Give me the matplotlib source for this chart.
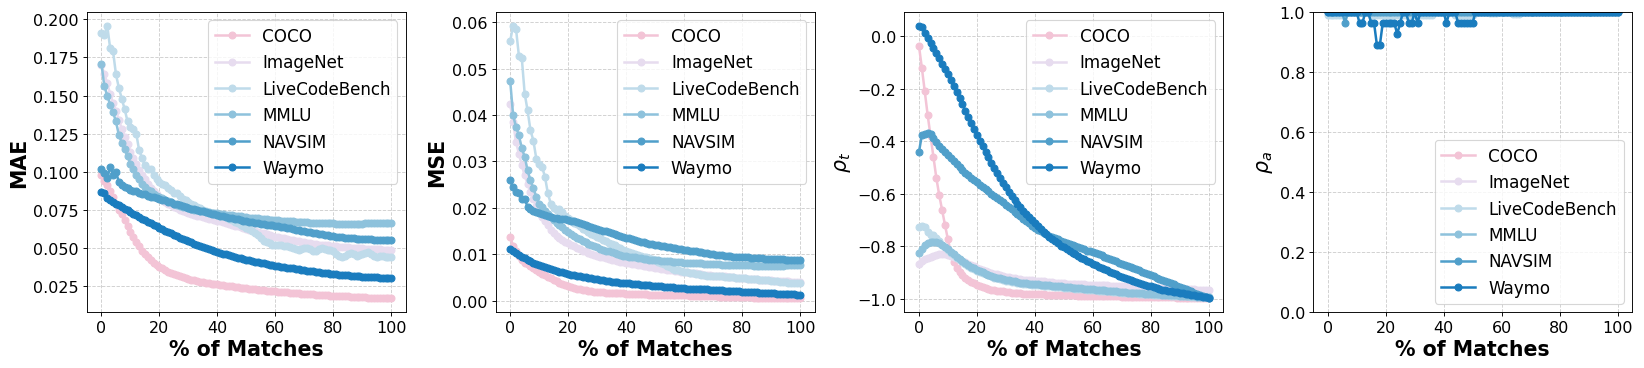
import matplotlib
matplotlib.use("Agg")
import matplotlib.pyplot as plt

# ---------------- data ----------------
pct = list(range(0, 101))  # % of matches

datasets = ["COCO", "ImageNet", "LiveCodeBench", "MMLU", "NAVSIM", "Waymo"]
colors = ["#f3c4d6", "#e7dcef", "#bfdbea", "#8ec2dc", "#509fca", "#1a7cbe"]

mae_coco = [
    0.0977, 0.0940, 0.0911, 0.0870, 0.0830, 0.0790, 0.0750, 0.0720, 0.0680, 0.0640,
    0.0600, 0.0570, 0.0540, 0.0510, 0.0480, 0.0460, 0.0440, 0.0420, 0.0400, 0.0388,
    0.0375, 0.0363, 0.0352, 0.0342, 0.0333, 0.0325, 0.0318, 0.0311, 0.0305, 0.0299,
    0.0294, 0.0289, 0.0285, 0.0280, 0.0276, 0.0272, 0.0269, 0.0266, 0.0263, 0.0260,
    0.0258, 0.0255, 0.0253, 0.0250, 0.0247, 0.0245, 0.0242, 0.0240, 0.0237, 0.0235,
    0.0232, 0.0230, 0.0228, 0.0226, 0.0224, 0.0222, 0.0220, 0.0218, 0.0216, 0.0214,
    0.0212, 0.0210, 0.0209, 0.0207, 0.0206, 0.0204, 0.0203, 0.0201, 0.0200, 0.0198,
    0.0197, 0.0195, 0.0194, 0.0193, 0.0191, 0.0190, 0.0189, 0.0187, 0.0186, 0.0185,
    0.0184, 0.0183, 0.0182, 0.0181, 0.0180, 0.0179, 0.0178, 0.0177, 0.0176, 0.0175,
    0.0174, 0.0173, 0.0172, 0.0172, 0.0171, 0.0170, 0.0170, 0.0169, 0.0168, 0.0168,
    0.0167]
mae_imagenet = [
    0.170, 0.164, 0.158, 0.151, 0.145, 0.140, 0.134, 0.128, 0.123, 0.118,
    0.113, 0.109, 0.105, 0.101, 0.098, 0.095, 0.092, 0.0895, 0.087, 0.085,
    0.083, 0.0815, 0.080, 0.079, 0.078, 0.077, 0.076, 0.075, 0.0742, 0.0735,
    0.0728, 0.0722, 0.0716, 0.0711, 0.0706, 0.0701, 0.0696, 0.0691, 0.0686, 0.0682,
    0.0678, 0.0672, 0.0667, 0.0661, 0.0656, 0.0651, 0.0645, 0.0640, 0.0634, 0.0629,
    0.0624, 0.0619, 0.0614, 0.0608, 0.0603, 0.0598, 0.0593, 0.0588, 0.0583, 0.0578,
    0.0573, 0.0569, 0.0565, 0.0561, 0.0557, 0.0553, 0.0549, 0.0545, 0.0542, 0.0538,
    0.0535, 0.0532, 0.0529, 0.0526, 0.0523, 0.0520, 0.0518, 0.0516, 0.0514, 0.0512,
    0.0510, 0.0508, 0.0507, 0.0505, 0.0503, 0.0502, 0.0500, 0.0499, 0.0497, 0.0496,
    0.0495, 0.0494, 0.0492, 0.0491, 0.0490, 0.0489, 0.0488, 0.0487, 0.0486, 0.0485,
    0.0484]
mae_lcb = [
    0.191, 0.190, 0.196, 0.181, 0.179, 0.164, 0.155, 0.148, 0.141, 0.133,
    0.129, 0.128, 0.125, 0.114, 0.109, 0.104, 0.102, 0.102, 0.098, 0.095,
    0.093, 0.092, 0.091, 0.089, 0.088, 0.086, 0.086, 0.084, 0.082, 0.081,
    0.080, 0.079, 0.078, 0.077, 0.076, 0.075, 0.074, 0.073, 0.0725, 0.072,
    0.0715, 0.071, 0.0705, 0.070, 0.069, 0.068, 0.067, 0.066, 0.065, 0.064,
    0.063, 0.062, 0.061, 0.0595, 0.058, 0.056, 0.0545, 0.0535, 0.053, 0.052,
    0.0518, 0.0518, 0.052, 0.0512, 0.0508, 0.0505, 0.050, 0.049, 0.0484, 0.0488,
    0.0495, 0.0496, 0.049, 0.048, 0.0476, 0.049, 0.0495, 0.049, 0.0485, 0.0484,
    0.048, 0.046, 0.0445, 0.0441, 0.0448, 0.0458, 0.0463, 0.0455, 0.0448, 0.0452,
    0.046, 0.0466, 0.0468, 0.0455, 0.0445, 0.0441, 0.0448, 0.0444, 0.0441, 0.044,
    0.0437]
mae_mmlu = [
    0.171, 0.156, 0.150, 0.144, 0.139, 0.133, 0.124, 0.119, 0.115, 0.110,
    0.105, 0.102, 0.098, 0.095, 0.092, 0.090, 0.088, 0.087, 0.0855, 0.084,
    0.0835, 0.0825, 0.0815, 0.0806, 0.0798, 0.079, 0.0783, 0.0776, 0.077, 0.0764,
    0.0759, 0.0754, 0.0749, 0.0745, 0.0741, 0.0738, 0.0735, 0.0732, 0.0729, 0.0727,
    0.0725, 0.0722, 0.072, 0.0717, 0.0714, 0.0712, 0.071, 0.0707, 0.0705, 0.0702,
    0.070, 0.0698, 0.0696, 0.0694, 0.0692, 0.069, 0.0688, 0.0686, 0.0684, 0.0682,
    0.068, 0.0679, 0.0677, 0.0676, 0.0674, 0.0673, 0.0672, 0.0671, 0.0669, 0.0668,
    0.0667, 0.0666, 0.0665, 0.0664, 0.0663, 0.0662, 0.0661, 0.066, 0.066, 0.0659,
    0.0659, 0.0658, 0.0658, 0.0657, 0.0657, 0.0657, 0.0657, 0.0657, 0.0658, 0.0658,
    0.0658, 0.0659, 0.0659, 0.066, 0.066, 0.066, 0.0661, 0.0662, 0.0663, 0.0663,
    0.0664]
mae_navsim = [
    0.102, 0.099, 0.0955, 0.103, 0.098, 0.100, 0.093, 0.091, 0.090, 0.089,
    0.088, 0.0875, 0.087, 0.086, 0.0855, 0.085, 0.084, 0.0835, 0.083, 0.0825,
    0.082, 0.0815, 0.081, 0.0803, 0.0797, 0.079, 0.0784, 0.0778, 0.0772, 0.0766,
    0.076, 0.0755, 0.0751, 0.0747, 0.0743, 0.0738, 0.0733, 0.0728, 0.0723, 0.0718,
    0.0714, 0.071, 0.0705, 0.0701, 0.0697, 0.0693, 0.0689, 0.0685, 0.0681, 0.0678,
    0.0674, 0.067, 0.0667, 0.0664, 0.0661, 0.0658, 0.0655, 0.0652, 0.0649, 0.0646,
    0.0643, 0.064, 0.0636, 0.0633, 0.063, 0.0626, 0.0622, 0.0618, 0.0614, 0.0611,
    0.0607, 0.0604, 0.0601, 0.0598, 0.0595, 0.0592, 0.0589, 0.0585, 0.0582, 0.0578,
    0.0575, 0.0572, 0.057, 0.0568, 0.0566, 0.0564, 0.0562, 0.056, 0.0559, 0.0558,
    0.0557, 0.0556, 0.0555, 0.0554, 0.0553, 0.0552, 0.0551, 0.0551, 0.055, 0.055,
    0.0549]
mae_waymo = [
    0.0863, 0.0862, 0.0823, 0.0812, 0.0800, 0.0789, 0.0778, 0.0767, 0.0756, 0.0745,
    0.0734, 0.0723, 0.0712, 0.0701, 0.0690, 0.0680, 0.0670, 0.0660, 0.0650, 0.0640,
    0.0630, 0.0620, 0.0611, 0.0602, 0.0593, 0.0584, 0.0575, 0.0566, 0.0558, 0.0550,
    0.0542, 0.0534, 0.0526, 0.0519, 0.0512, 0.0505, 0.0498, 0.0491, 0.0485, 0.0478,
    0.0472, 0.0466, 0.0460, 0.0455, 0.0450, 0.0445, 0.0440, 0.0435, 0.0430, 0.0425,
    0.0420, 0.0416, 0.0412, 0.0408, 0.0404, 0.0400, 0.0396, 0.0392, 0.0389, 0.0385,
    0.0382, 0.0379, 0.0375, 0.0372, 0.0369, 0.0366, 0.0363, 0.0360, 0.0357, 0.0354,
    0.0351, 0.0349, 0.0346, 0.0344, 0.0341, 0.0339, 0.0336, 0.0334, 0.0332, 0.0329,
    0.0327, 0.0325, 0.0323, 0.0321, 0.0319, 0.0318, 0.0316, 0.0314, 0.0313, 0.0311,
    0.0310, 0.0309, 0.0307, 0.0306, 0.0305, 0.0304, 0.0303, 0.0302, 0.0301, 0.0300,
    0.0299]

mse_coco = [
    0.0137, 0.0118, 0.0106, 0.0096, 0.0088, 0.0082, 0.0078, 0.0074, 0.0070, 0.0066,
    0.0062, 0.0058, 0.0055, 0.0051, 0.0048, 0.0045, 0.0042, 0.0039, 0.0036, 0.0034,
    0.0031, 0.0029, 0.0027, 0.0026, 0.0024, 0.0023, 0.0022, 0.0021, 0.0020, 0.0019,
    0.0019, 0.0018, 0.0018, 0.0017, 0.0017, 0.0017, 0.0016, 0.0016, 0.0016, 0.0016,
    0.0015, 0.0015, 0.0015, 0.0015, 0.0014, 0.0014, 0.0014, 0.0014, 0.0013, 0.0013,
    0.0013, 0.0013, 0.0012, 0.0012, 0.0012, 0.0012, 0.0012, 0.0011, 0.0011, 0.0011,
    0.0011, 0.0011, 0.0010, 0.0010, 0.0010, 0.0010, 0.0010, 0.0009, 0.0009, 0.0009,
    0.0009, 0.0009, 0.0008, 0.0008, 0.0008, 0.0008, 0.0008, 0.0008, 0.0007, 0.0007,
    0.0007, 0.0007, 0.0007, 0.0007, 0.0006, 0.0006, 0.0006, 0.0006, 0.0006, 0.0006,
    0.0006, 0.0006, 0.0005, 0.0005, 0.0005, 0.0005, 0.0005, 0.0005, 0.0005, 0.0005,
    0.0005]
mse_imagenet = [
    0.0424, 0.0385, 0.0342, 0.0317, 0.0292, 0.0270, 0.0252, 0.0235, 0.0219, 0.0205,
    0.0192, 0.0181, 0.0171, 0.0162, 0.0153, 0.0146, 0.0140, 0.0135, 0.0130, 0.0127,
    0.0124, 0.0120, 0.0117, 0.0114, 0.0111, 0.0108, 0.0106, 0.0103, 0.0101, 0.0099,
    0.0097, 0.0095, 0.0093, 0.0091, 0.0090, 0.0088, 0.0087, 0.0085, 0.0084, 0.0083,
    0.0081, 0.0080, 0.0079, 0.0078, 0.0077, 0.0076, 0.0075, 0.0074, 0.0073, 0.0072,
    0.0071, 0.0070, 0.0069, 0.0068, 0.0067, 0.0066, 0.0065, 0.0064, 0.0063, 0.0062,
    0.0062, 0.0061, 0.0060, 0.0059, 0.0059, 0.0058, 0.0057, 0.0056, 0.0056, 0.0055,
    0.0054, 0.0054, 0.0053, 0.0052, 0.0052, 0.0051, 0.0050, 0.0050, 0.0049, 0.0049,
    0.0048, 0.0048, 0.0047, 0.0047, 0.0046, 0.0046, 0.0045, 0.0045, 0.0045, 0.0044,
    0.0044, 0.0043, 0.0043, 0.0043, 0.0042, 0.0042, 0.0042, 0.0041, 0.0041, 0.0041,
    0.0040]
mse_lcb = [
    0.0559, 0.0593, 0.0586, 0.0528, 0.0523, 0.0446, 0.0410, 0.0367, 0.0345, 0.0306,
    0.0295, 0.0288, 0.0267, 0.0231, 0.0209, 0.0200, 0.0195, 0.0197, 0.0190, 0.0182,
    0.0178, 0.0173, 0.0168, 0.0165, 0.0160, 0.0155, 0.0152, 0.0148, 0.0144, 0.0141,
    0.0138, 0.0135, 0.0131, 0.0128, 0.0125, 0.0122, 0.0119, 0.0116, 0.0113, 0.0110,
    0.0107, 0.0105, 0.0103, 0.0101, 0.0099, 0.0097, 0.0095, 0.0093, 0.0091, 0.0089,
    0.0087, 0.0084, 0.0081, 0.0078, 0.0075, 0.0072, 0.0069, 0.0067, 0.0065, 0.0063,
    0.0062, 0.0061, 0.0060, 0.0059, 0.0058, 0.0057, 0.0056, 0.0055, 0.0054, 0.0054,
    0.0053, 0.0053, 0.0052, 0.0052, 0.0051, 0.0051, 0.0050, 0.0050, 0.0049, 0.0049,
    0.0048, 0.0048, 0.0047, 0.0047, 0.0046, 0.0046, 0.0045, 0.0045, 0.0044, 0.0044,
    0.0043, 0.0042, 0.0042, 0.0041, 0.0040, 0.0040, 0.0039, 0.0039, 0.0038, 0.0037,
    0.0037]
mse_mmlu = [
    0.0474, 0.0400, 0.0374, 0.0356, 0.0329, 0.0310, 0.0281, 0.0259, 0.0242, 0.0224,
    0.0209, 0.0201, 0.0193, 0.0186, 0.0180, 0.0174, 0.0168, 0.0163, 0.0158, 0.0153,
    0.0148, 0.0144, 0.0140, 0.0136, 0.0132, 0.0129, 0.0126, 0.0123, 0.0120, 0.0117,
    0.0115, 0.0112, 0.0110, 0.0108, 0.0106, 0.0104, 0.0102, 0.0100, 0.0099, 0.0097,
    0.0096, 0.0095, 0.0094, 0.0093, 0.0092, 0.0091, 0.0090, 0.0089, 0.0088, 0.0088,
    0.0087, 0.0087, 0.0086, 0.0086, 0.0085, 0.0085, 0.0084, 0.0084, 0.0083, 0.0083,
    0.0082, 0.0082, 0.0081, 0.0081, 0.0080, 0.0080, 0.0080, 0.0079, 0.0079, 0.0079,
    0.0078, 0.0078, 0.0078, 0.0077, 0.0077, 0.0077, 0.0077, 0.0076, 0.0076, 0.0076,
    0.0076, 0.0076, 0.0076, 0.0076, 0.0075, 0.0075, 0.0075, 0.0075, 0.0075, 0.0075,
    0.0075, 0.0075, 0.0075, 0.0075, 0.0075, 0.0076, 0.0076, 0.0076, 0.0076, 0.0076,
    0.0076]
mse_navsim = [
    0.0259, 0.0245, 0.0235, 0.0232, 0.0220, 0.0219, 0.0202, 0.0197, 0.0194, 0.0191,
    0.0188, 0.0186, 0.0184, 0.0182, 0.0180, 0.0179, 0.0178, 0.0177, 0.0176, 0.0175,
    0.0174, 0.0172, 0.0171, 0.0169, 0.0167, 0.0165, 0.0163, 0.0161, 0.0159, 0.0157,
    0.0155, 0.0153, 0.0151, 0.0149, 0.0147, 0.0145, 0.0143, 0.0141, 0.0139, 0.0137,
    0.0135, 0.0134, 0.0132, 0.0130, 0.0129, 0.0127, 0.0126, 0.0124, 0.0123, 0.0121,
    0.0120, 0.0119, 0.0118, 0.0117, 0.0116, 0.0115, 0.0114, 0.0113, 0.0112, 0.0111,
    0.0110, 0.0109, 0.0108, 0.0107, 0.0106, 0.0105, 0.0104, 0.0103, 0.0102, 0.0101,
    0.0100, 0.0099, 0.0099, 0.0098, 0.0097, 0.0097, 0.0096, 0.0095, 0.0095, 0.0094,
    0.0094, 0.0093, 0.0093, 0.0092, 0.0092, 0.0091, 0.0091, 0.0091, 0.0090, 0.0090,
    0.0090, 0.0089, 0.0089, 0.0089, 0.0089, 0.0088, 0.0088, 0.0088, 0.0088, 0.0088,
    0.0087]
mse_waymo = [
    0.0111, 0.0106, 0.0102, 0.0098, 0.0094, 0.0091, 0.0088, 0.0085, 0.0082, 0.0079,
    0.0077, 0.0074, 0.0072, 0.0070, 0.0068, 0.0066, 0.0064, 0.0062, 0.0061, 0.0059,
    0.0058, 0.0056, 0.0055, 0.0054, 0.0052, 0.0051, 0.0050, 0.0049, 0.0048, 0.0047,
    0.0046, 0.0045, 0.0044, 0.0043, 0.0042, 0.0041, 0.0041, 0.0040, 0.0039, 0.0038,
    0.0038, 0.0037, 0.0036, 0.0036, 0.0035, 0.0034, 0.0034, 0.0033, 0.0033, 0.0032,
    0.0032, 0.0031, 0.0031, 0.0030, 0.0030, 0.0029, 0.0029, 0.0028, 0.0028, 0.0027,
    0.0027, 0.0026, 0.0026, 0.0026, 0.0025, 0.0025, 0.0024, 0.0024, 0.0024, 0.0023,
    0.0023, 0.0022, 0.0022, 0.0022, 0.0021, 0.0021, 0.0021, 0.0020, 0.0020, 0.0020,
    0.0019, 0.0019, 0.0019, 0.0018, 0.0018, 0.0018, 0.0017, 0.0017, 0.0017, 0.0016,
    0.0016, 0.0016, 0.0015, 0.0015, 0.0015, 0.0014, 0.0014, 0.0014, 0.0014, 0.0013,
    0.0013]

rt_coco = [
    -0.037, -0.120, -0.210, -0.300, -0.380, -0.460, -0.540, -0.606, -0.663, -0.720,
    -0.775, -0.825, -0.860, -0.882, -0.898, -0.910, -0.920, -0.929, -0.936, -0.942,
    -0.948, -0.953, -0.957, -0.960, -0.963, -0.966, -0.968, -0.970, -0.972, -0.973,
    -0.975, -0.976, -0.977, -0.978, -0.979, -0.980, -0.981, -0.981, -0.982, -0.982,
    -0.983, -0.983, -0.984, -0.984, -0.985, -0.985, -0.986, -0.986, -0.986, -0.987,
    -0.987, -0.987, -0.988, -0.988, -0.988, -0.989, -0.989, -0.989, -0.990, -0.990,
    -0.990, -0.990, -0.991, -0.991, -0.991, -0.991, -0.992, -0.992, -0.992, -0.992,
    -0.993, -0.993, -0.993, -0.993, -0.994, -0.994, -0.994, -0.994, -0.994, -0.995,
    -0.995, -0.995, -0.995, -0.995, -0.996, -0.996, -0.996, -0.996, -0.996, -0.997,
    -0.997, -0.997, -0.997, -0.997, -0.998, -0.998, -0.998, -0.998, -0.998, -0.999,
    -0.999]
rt_imagenet = [
    -0.867, -0.857, -0.851, -0.846, -0.841, -0.837, -0.834, -0.832, -0.831, -0.832,
    -0.834, -0.838, -0.842, -0.847, -0.852, -0.857, -0.862, -0.867, -0.872, -0.877,
    -0.882, -0.886, -0.890, -0.894, -0.898, -0.902, -0.905, -0.908, -0.911, -0.914,
    -0.917, -0.919, -0.921, -0.923, -0.925, -0.927, -0.928, -0.929, -0.930, -0.931,
    -0.932, -0.933, -0.934, -0.935, -0.936, -0.937, -0.938, -0.939, -0.940, -0.941,
    -0.942, -0.943, -0.943, -0.944, -0.945, -0.945, -0.946, -0.946, -0.947, -0.947,
    -0.948, -0.948, -0.949, -0.949, -0.950, -0.950, -0.951, -0.951, -0.952, -0.952,
    -0.953, -0.953, -0.954, -0.954, -0.955, -0.955, -0.956, -0.956, -0.957, -0.957,
    -0.958, -0.958, -0.959, -0.959, -0.960, -0.960, -0.961, -0.961, -0.962, -0.962,
    -0.963, -0.963, -0.964, -0.964, -0.965, -0.965, -0.966, -0.966, -0.967, -0.967,
    -0.968]
rt_lcb = [
    -0.727, -0.723, -0.727, -0.748, -0.758, -0.757, -0.770, -0.780, -0.795, -0.805,
    -0.815, -0.825, -0.835, -0.844, -0.852, -0.860, -0.868, -0.875, -0.882, -0.888,
    -0.894, -0.899, -0.904, -0.908, -0.912, -0.916, -0.920, -0.923, -0.926, -0.929,
    -0.932, -0.934, -0.936, -0.938, -0.940, -0.942, -0.943, -0.945, -0.946, -0.947,
    -0.948, -0.949, -0.950, -0.951, -0.952, -0.953, -0.954, -0.955, -0.956, -0.957,
    -0.958, -0.959, -0.960, -0.961, -0.962, -0.963, -0.964, -0.965, -0.966, -0.967,
    -0.968, -0.969, -0.970, -0.971, -0.972, -0.972, -0.973, -0.974, -0.975, -0.976,
    -0.977, -0.977, -0.978, -0.979, -0.980, -0.980, -0.981, -0.982, -0.983, -0.983,
    -0.984, -0.985, -0.985, -0.986, -0.987, -0.987, -0.988, -0.989, -0.989, -0.990,
    -0.990, -0.991, -0.992, -0.992, -0.993, -0.993, -0.994, -0.995, -0.995, -0.996,
    -0.996]
rt_mmlu = [
    -0.825, -0.810, -0.795, -0.787, -0.783, -0.783, -0.785, -0.790, -0.797, -0.805,
    -0.813, -0.822, -0.831, -0.840, -0.848, -0.856, -0.864, -0.871, -0.878, -0.884,
    -0.890, -0.895, -0.900, -0.905, -0.909, -0.913, -0.917, -0.920, -0.923, -0.926,
    -0.929, -0.931, -0.933, -0.935, -0.937, -0.939, -0.940, -0.942, -0.943, -0.944,
    -0.945, -0.946, -0.947, -0.948, -0.949, -0.950, -0.951, -0.952, -0.953, -0.954,
    -0.955, -0.956, -0.957, -0.958, -0.959, -0.960, -0.961, -0.962, -0.963, -0.964,
    -0.965, -0.966, -0.967, -0.968, -0.969, -0.970, -0.971, -0.972, -0.973, -0.974,
    -0.975, -0.976, -0.977, -0.977, -0.978, -0.979, -0.980, -0.980, -0.981, -0.982,
    -0.982, -0.983, -0.984, -0.984, -0.985, -0.986, -0.986, -0.987, -0.988, -0.988,
    -0.989, -0.990, -0.990, -0.991, -0.992, -0.992, -0.993, -0.994, -0.994, -0.995,
    -0.996]
rt_navsim = [
    -0.443, -0.377, -0.372, -0.371, -0.375, -0.390, -0.403, -0.418, -0.430, -0.443,
    -0.455, -0.466, -0.477, -0.488, -0.499, -0.510, -0.520, -0.529, -0.539, -0.548,
    -0.557, -0.566, -0.574, -0.583, -0.591, -0.600, -0.608, -0.617, -0.625, -0.634,
    -0.642, -0.651, -0.660, -0.669, -0.678, -0.687, -0.696, -0.705, -0.713, -0.722,
    -0.730, -0.737, -0.743, -0.749, -0.755, -0.760, -0.765, -0.770, -0.775, -0.780,
    -0.785, -0.789, -0.793, -0.797, -0.801, -0.805, -0.809, -0.813, -0.817, -0.820,
    -0.824, -0.828, -0.832, -0.836, -0.841, -0.845, -0.849, -0.854, -0.858, -0.863,
    -0.867, -0.871, -0.876, -0.880, -0.885, -0.889, -0.893, -0.898, -0.902, -0.907,
    -0.911, -0.915, -0.920, -0.924, -0.929, -0.933, -0.937, -0.942, -0.946, -0.951,
    -0.955, -0.959, -0.964, -0.968, -0.973, -0.977, -0.981, -0.985, -0.989, -0.993,
    -0.997]
rt_waymo = [
    0.040, 0.036, 0.010, -0.009, -0.025, -0.045, -0.065, -0.085, -0.105, -0.125,
    -0.145, -0.168, -0.190, -0.213, -0.236, -0.260, -0.284, -0.307, -0.330, -0.353,
    -0.376, -0.398, -0.420, -0.441, -0.462, -0.482, -0.502, -0.521, -0.540, -0.558,
    -0.576, -0.593, -0.609, -0.624, -0.638, -0.652, -0.665, -0.678, -0.690, -0.702,
    -0.714, -0.725, -0.736, -0.746, -0.756, -0.765, -0.774, -0.782, -0.790, -0.798,
    -0.805, -0.812, -0.819, -0.826, -0.832, -0.838, -0.844, -0.850, -0.856, -0.862,
    -0.867, -0.873, -0.878, -0.883, -0.888, -0.893, -0.898, -0.903, -0.908, -0.913,
    -0.918, -0.922, -0.926, -0.930, -0.934, -0.938, -0.942, -0.945, -0.948, -0.951,
    -0.954, -0.957, -0.960, -0.963, -0.966, -0.968, -0.970, -0.972, -0.974, -0.976,
    -0.978, -0.980, -0.982, -0.984, -0.986, -0.988, -0.990, -0.992, -0.994, -0.996,
    -0.998]

ra_coco = [
    1, 1, 1, 1, 1, 1, 1, 1, 1, 1,  1, 1, 1, 1, 1, 1, 1, 1, 1, 1,
    1, 1, 1, 1, 1, 1, 1, 1, 1, 1,  1, 1, 1, 1, 1, 1, 1, 1, 1, 1,
    1, 1, 1, 1, 1, 1, 1, 1, 1, 1,  1, 1, 1, 1, 1, 1, 1, 1, 1, 1,
    1, 1, 1, 1, 1, 1, 1, 1, 1, 1,  1, 1, 1, 1, 1, 1, 1, 1, 1, 1,
    1, 1, 1, 1, 1, 1, 1, 1, 1, 1,  1, 1, 1, 1, 1, 1, 1, 1, 1, 1,
    1]
ra_imagenet = [
    1, 1, 1, 1, 1, 1, 1, 1, 1, 1,  1, 1, 1, 1, 1, 1, 1, 1, 1, 1,
    1, 1, 1, 1, 1, 1, 1, 1, 1, 1,  1, 1, 1, 1, 1, 1, 1, 1, 1, 1,
    1, 1, 1, 1, 1, 1, 1, 1, 1, 1,  1, 1, 1, 1, 1, 1, 1, 1, 1, 1,
    1, 1, 1, 1, 1, 1, 1, 1, 1, 1,  1, 1, 1, 1, 1, 1, 1, 1, 1, 1,
    1, 1, 1, 1, 1, 1, 1, 1, 1, 1,  1, 1, 1, 1, 1, 1, 1, 1, 1, 1,
    1]
ra_lcb = [
    0.99, 0.99, 0.99, 0.99, 0.99, 0.99, 1, 1, 1, 1,
    1, 1, 1, 1, 1, 0.99, 0.99, 0.99, 0.99, 0.99,
    0.99, 0.99, 0.99, 0.99, 0.99, 0.99, 0.99, 0.99, 0.99, 0.99,
    0.99, 0.99, 0.99, 0.99, 0.99, 0.99, 0.99, 1, 1, 1,
    1, 1, 1, 1, 0.99, 0.99, 0.99, 0.99, 0.99, 0.99,
    0.99, 1, 1, 1, 1, 1, 0.995, 0.995, 0.995, 1,
    1, 1, 1, 1, 0.993, 0.993, 0.993, 1, 1, 1,
    1, 1, 1, 1, 1, 1, 1, 1, 1, 1,
    1, 1, 1, 1, 1, 1, 1, 1, 1, 1,
    1, 1, 1, 1, 1, 1, 1, 1, 1, 1,
    1]
ra_mmlu = [
    1, 1, 1, 1, 1, 1, 1, 1, 1, 1,  1, 1, 1, 1, 1, 1, 1, 1, 1, 1,
    1, 1, 1, 1, 1, 1, 1, 1, 1, 1,  1, 1, 1, 1, 1, 1, 1, 1, 1, 1,
    1, 1, 1, 1, 1, 1, 1, 1, 1, 1,  1, 1, 1, 1, 1, 1, 1, 1, 1, 1,
    1, 1, 1, 1, 1, 1, 1, 1, 1, 1,  1, 1, 1, 1, 1, 1, 1, 1, 1, 1,
    1, 1, 1, 1, 1, 1, 1, 1, 1, 1,  1, 1, 1, 1, 1, 1, 1, 1, 1, 1,
    1]
ra_navsim = [
    1, 1, 1, 1, 1, 1, 0.963, 1, 1, 1,  1, 1, 1, 1, 1, 1, 1, 1, 1, 1,
    1, 1, 1, 1, 1, 1, 1, 1, 1, 1,  1, 1, 1, 1, 1, 1, 1, 1, 1, 1,
    1, 1, 1, 1, 1, 1, 1, 1, 1, 1,  1, 1, 1, 1, 1, 1, 1, 1, 1, 1,
    1, 1, 1, 1, 1, 1, 1, 1, 1, 1,  1, 1, 1, 1, 1, 1, 1, 1, 1, 1,
    1, 1, 1, 1, 1, 1, 1, 1, 1, 1,  1, 1, 1, 1, 1, 1, 1, 1, 1, 1,
    1]
ra_waymo = [
    1, 1, 1, 1, 1, 1, 1, 1, 1, 1,
    1, 0.963, 0.963, 1, 1, 0.963, 0.963, 0.889, 0.889, 0.963,
    0.963, 0.963, 0.963, 0.963, 0.926, 0.963, 1, 1, 0.963, 0.963,
    1, 0.963, 1, 1, 1, 1, 1, 1, 1, 1,
    1, 0.963, 1, 1, 1, 0.963, 0.963, 0.963, 0.963, 0.963,
    0.963, 1, 1, 1, 1, 1, 1, 1, 1, 1,
    1, 1, 1, 1, 1, 1, 1, 1, 1, 1,
    1, 1, 1, 1, 1, 1, 1, 1, 1, 1,
    1, 1, 1, 1, 1, 1, 1, 1, 1, 1,
    1, 1, 1, 1, 1, 1, 1, 1, 1, 1,
    1]

mae_all = [mae_coco, mae_imagenet, mae_lcb, mae_mmlu, mae_navsim, mae_waymo]
mse_all = [mse_coco, mse_imagenet, mse_lcb, mse_mmlu, mse_navsim, mse_waymo]
rt_all = [rt_coco, rt_imagenet, rt_lcb, rt_mmlu, rt_navsim, rt_waymo]
ra_all = [ra_coco, ra_imagenet, ra_lcb, ra_mmlu, ra_navsim, ra_waymo]

# ---------------- plot ----------------
fig, axes = plt.subplots(1, 4, figsize=(20, 4.489), dpi=82.2)
fig.subplots_adjust(left=0.0529, right=0.9927, bottom=0.152, top=0.965, wspace=0.282)

panels = [
    (mae_all, "MAE", "bold", "upper right"),
    (mse_all, "MSE", "bold", "upper right"),
    (rt_all, r"$\rho_t$", "normal", "upper right"),
    (ra_all, r"$\rho_a$", "normal", "lower right"),
]

for ax, (series, ylab, weight, loc) in zip(axes, panels):
    for name, vals, col in zip(datasets, series, colors):
        ax.plot(pct, vals, marker="o", color=col, linewidth=2.2, markersize=6, label=name)
    ax.grid(True, linestyle="--", color="#b0b0b0", linewidth=0.8, alpha=0.6)
    ax.set_xlabel("% of Matches", fontsize=18, fontweight="bold")
    ax.set_ylabel(ylab, fontsize=18, fontweight=weight)
    ax.tick_params(labelsize=14)
    ax.set_xticks([0, 20, 40, 60, 80, 100])
    ax.legend(fontsize=14.7, loc=loc)

axes[3].set_ylim(0, 1.0)

fig.savefig("out.png", dpi=82.2)
